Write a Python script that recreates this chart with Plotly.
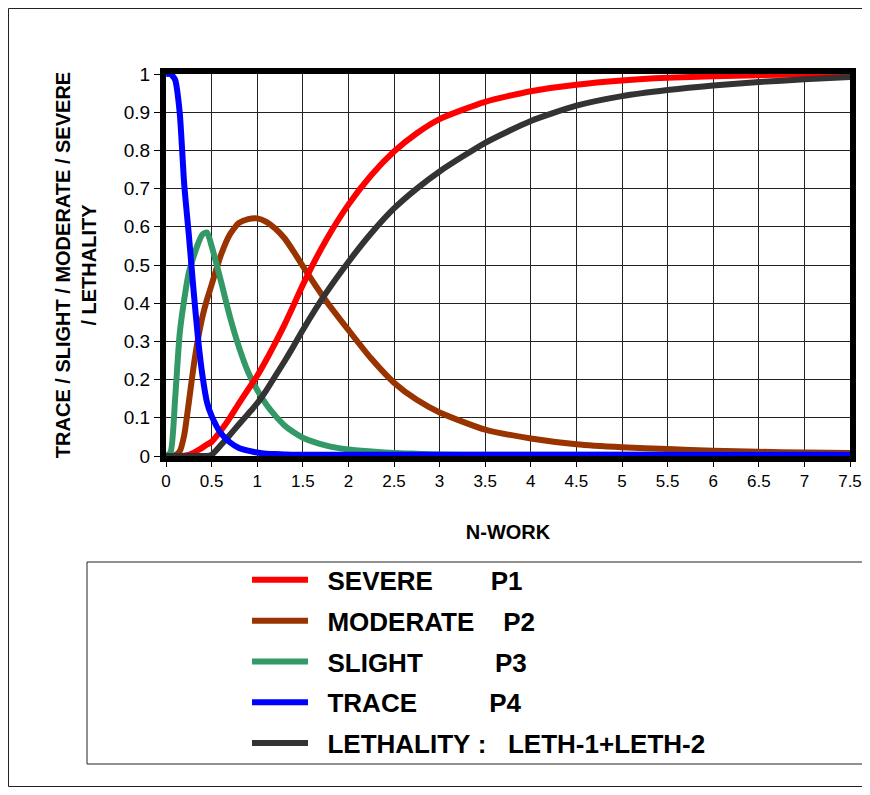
import plotly.graph_objects as go

# ---- data ----
n_work = [0, 0.05, 0.1, 0.15, 0.2, 0.25, 0.3, 0.35, 0.4, 0.45, 0.5, 0.6, 0.7, 0.8, 0.9,
          1.0, 1.1, 1.2, 1.3, 1.4, 1.5, 1.75, 2.0, 2.25, 2.5, 2.75, 3.0, 3.5, 4.0, 4.5,
          5.0, 5.5, 6.0, 6.5, 7.0, 7.5]

severe = [0, 0, 0, 0, 0.001, 0.003, 0.008, 0.015, 0.022, 0.03, 0.037, 0.066, 0.1, 0.138, 0.174,
          0.21, 0.252, 0.297, 0.344, 0.395, 0.448, 0.563, 0.658, 0.735, 0.797, 0.845, 0.882, 0.927, 0.955, 0.972,
          0.983, 0.99, 0.994, 0.997, 0.999, 1.0]

moderate = [0, 0, 0.002, 0.012, 0.055, 0.14, 0.23, 0.305, 0.365, 0.41, 0.448, 0.525, 0.58, 0.61, 0.62,
            0.622, 0.613, 0.595, 0.57, 0.535, 0.497, 0.408, 0.33, 0.255, 0.192, 0.147, 0.114, 0.069, 0.046, 0.031,
            0.023, 0.018, 0.014, 0.011, 0.009, 0.008]

slight = [0, 0.01, 0.15, 0.32, 0.41, 0.48, 0.52, 0.555, 0.58, 0.585, 0.55, 0.46, 0.365, 0.285, 0.22,
          0.173, 0.135, 0.105, 0.08, 0.062, 0.048, 0.028, 0.017, 0.012, 0.008, 0.006, 0.004, 0.003, 0.003, 0.003,
          0.003, 0.003, 0.003, 0.003, 0.003, 0.003]

trace = [1.0, 1.0, 0.985, 0.9, 0.71, 0.58, 0.44, 0.31, 0.21, 0.14, 0.105, 0.06, 0.036, 0.021, 0.014,
         0.009, 0.006, 0.005, 0.004, 0.003, 0.003, 0.003, 0.003, 0.003, 0.003, 0.003, 0.003, 0.003, 0.003, 0.003,
         0.003, 0.003, 0.003, 0.003, 0.003, 0.003]

lethality = [0, 0, 0, 0, 0, 0, 0, 0, 0, 0, 0.003, 0.028, 0.055, 0.083, 0.11,
             0.138, 0.172, 0.21, 0.248, 0.288, 0.33, 0.425, 0.508, 0.583, 0.648, 0.70, 0.745, 0.82, 0.877, 0.917,
             0.942, 0.958, 0.970, 0.979, 0.986, 0.992]

x_ticks = [0, 0.5, 1, 1.5, 2, 2.5, 3, 3.5, 4, 4.5, 5, 5.5, 6, 6.5, 7, 7.5]
y_ticks = [0, 0.1, 0.2, 0.3, 0.4, 0.5, 0.6, 0.7, 0.8, 0.9, 1]
x_ticktext = [f"{v:g}" for v in x_ticks]
y_ticktext = [f"{v:g}" for v in y_ticks]

NB = "\u00a0"
series = [
    # (name, values, color, legend rank) in drawing order (bottom -> top)
    (NB * 2 + "MODERATE" + NB * 4 + "P2", moderate, "#993300", 2),
    (NB * 2 + "SLIGHT" + NB * 10 + "P3", slight, "#339966", 3),
    (NB * 2 + "SEVERE" + NB * 8 + "P1", severe, "#FF0000", 1),
    (NB * 2 + "LETHALITY" + NB + ":" + NB * 3 + "LETH-1+LETH-2", lethality, "#333333", 5),
    (NB * 2 + "TRACE" + NB * 10 + "P4", trace, "#0000FF", 4),
]

FONT = "Liberation Sans, Arial, sans-serif"

fig = go.Figure()
for name, vals, color, rank in series:
    fig.add_trace(go.Scatter(
        x=n_work, y=vals, name=name, mode="lines",
        line=dict(color=color, width=6, shape="spline", smoothing=0.6),
        legendrank=rank, legendgroup=name,
    ))

# page has an 8px body margin; keep the whole page inside the 870x795 window
W, H = 854, 779
L, R, T, B = 158, 12, 66, 331
PW = W - L - R   # plot width in px
PH = H - T - B   # plot height in px


def px_x(sx):  # screenshot x -> paper x
    return (sx - 166) / PW


def px_y(sy):  # screenshot y -> paper y
    return (456 - sy) / PH


fig.update_layout(
    width=W, height=H,
    margin=dict(l=L, r=R, t=T, b=B, autoexpand=False),
    paper_bgcolor="white", plot_bgcolor="white",
    font=dict(family=FONT, color="black"),
    showlegend=True,
    legend=dict(
        x=px_x(247), xanchor="left", y=-0.263, yanchor="top",
        bgcolor="rgba(0,0,0,0)", borderwidth=0,
        font=dict(family=FONT, size=26, color="black", weight="bold"),
        itemwidth=56, tracegroupgap=4,
    ),
    xaxis=dict(
        range=[0, 7.5], tickvals=x_ticks, ticktext=x_ticktext,
        showgrid=True, gridcolor="#222222", gridwidth=1,
        showline=True, linecolor="black", linewidth=6, mirror=True,
        ticks="outside", ticklen=5, tickcolor="black", tickwidth=1,
        tickfont=dict(size=17, family=FONT), ticklabeloverflow="allow",
        automargin=False,
        zeroline=False, layer="below traces",
        title=dict(text="<b>N-WORK</b>", font=dict(size=20, family=FONT), standoff=37),
    ),
    yaxis=dict(
        range=[0, 1], tickvals=y_ticks, ticktext=y_ticktext,
        showgrid=True, gridcolor="#222222", gridwidth=1,
        showline=True, linecolor="black", linewidth=6, mirror=True,
        ticks="outside", ticklen=6, tickcolor="black", tickwidth=1,
        tickfont=dict(size=19, family=FONT),
        automargin=False,
        zeroline=False, layer="below traces",
        title=dict(text="<b>TRACE / SLIGHT / MODERATE / SEVERE<br>/ LETHALITY</b>",
                   font=dict(size=20, family=FONT), standoff=24),
    ),
    shapes=[
        # legend box
        dict(type="rect", xref="paper", yref="paper",
             x0=px_x(87), x1=px_x(890), y0=px_y(764), y1=px_y(562),
             line=dict(color="#222222", width=1), fillcolor="rgba(0,0,0,0)", layer="below"),
        # outer chart frame
        dict(type="rect", xref="paper", yref="paper",
             x0=px_x(8.5), x1=px_x(890), y0=px_y(786.5), y1=px_y(8.5),
             line=dict(color="#222222", width=1), fillcolor="rgba(0,0,0,0)", layer="below"),
    ],
)

fig.write_html("out.html")
